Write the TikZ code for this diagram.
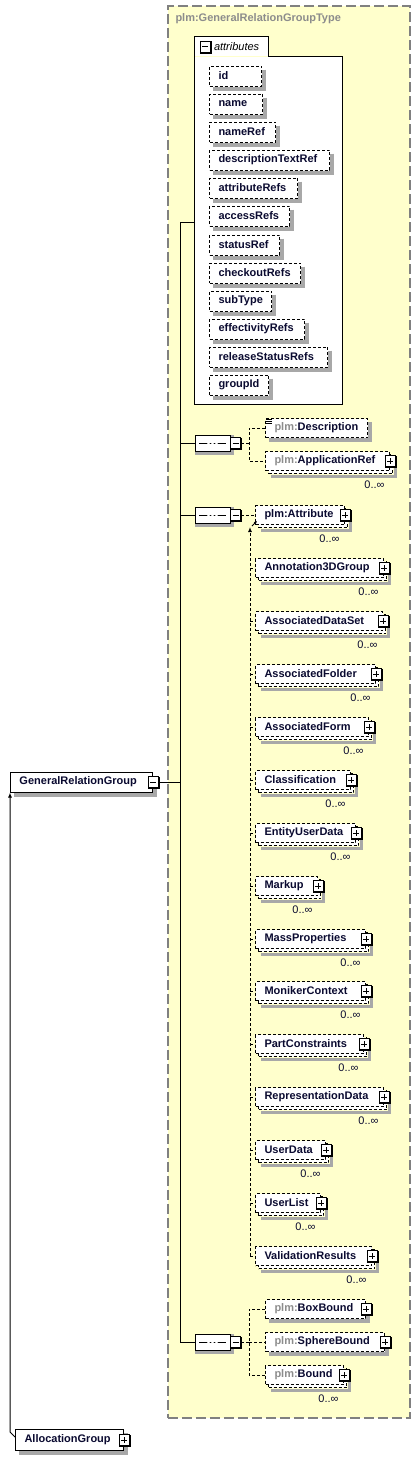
\documentclass[tikz,border=0pt]{standalone}
\usepackage{fontspec}
\setmainfont{Liberation Sans}[Scale=1.1]
\usepackage{tikz}
\usetikzlibrary{arrows.meta, shapes.misc, positioning}
\definecolor{bgyellow}{HTML}{FFFFCC}
\definecolor{framegray}{HTML}{808080}
\definecolor{shadowgray}{HTML}{A8A8A8}
\definecolor{nsgray}{HTML}{8C8C8C}
\definecolor{elemtext}{HTML}{0A0A30}
\tikzset{every picture/.style={line width=1pt}}
\newcommand{\plm}{{\color{nsgray}plm:}}

\begin{document}
\begin{tikzpicture}[x=1pt, y=-1pt,
    elbox/.style={draw, fill=white, anchor=west, inner xsep=9pt, inner ysep=0pt, align=left, text=elemtext, font=\bfseries},
    attr/.style={elbox, dash pattern=on 3pt off 2pt, minimum height=20pt, text width=#1pt},
    elem/.style={elbox, dash pattern=on 3pt off 2pt, minimum height=19pt, text width=#1pt},
    shadowline/.style={draw=shadowgray, line width=#1pt, line cap=butt, line join=miter},
    plusbox/.style={draw, solid, fill=white, minimum width=10pt, minimum height=11pt, inner sep=0pt,
        preaction={draw=black, line width=1.5pt, transform canvas={shift={(1pt,-1pt)}}},
        path picture={\draw ([xshift=2pt]path picture bounding box.west) -- ([xshift=-2pt]path picture bounding box.east)
            ([yshift=-2.5pt]path picture bounding box.north) -- ([yshift=2.5pt]path picture bounding box.south);}},
    minusbox/.style={draw, solid, fill=white, minimum width=10pt, minimum height=11pt, inner sep=0pt,
        preaction={draw=black, line width=1.5pt, transform canvas={shift={(1pt,-1pt)}}},
        path picture={\draw ([xshift=2pt]path picture bounding box.west) -- ([xshift=-2pt]path picture bounding box.east);}},
    seqshape/.style={chamfered rectangle, chamfered rectangle xsep=6pt, minimum width=35pt, minimum height=16pt, inner sep=0pt},
    seq/.style={seqshape, draw, fill=white,
        path picture={\draw ([xshift=4pt]path picture bounding box.west) -- ([xshift=-4pt]path picture bounding box.east);
            \foreach \d in {-4,0,4} \fill ([xshift=\d pt]path picture bounding box.center) circle (1.5pt);}},
    mult/.style={anchor=east, inner sep=0pt, text=elemtext},
    conn/.style={dash pattern=on 3pt off 2pt}]
    \useasboundingbox (0,0) rectangle (420,1460);

    % complex type frame and attributes box
    \node[draw=framegray, line width=1.5pt, dash pattern=on 10pt off 4pt, fill=bgyellow, anchor=north west,
        minimum width=242pt, minimum height=1412pt] (typebg) at (167,5) {};
    \node[anchor=west, inner sep=0pt, font=\bfseries, text=nsgray] (title) at (175,19) {plm:GeneralRelationGroupType};
    \node[fill=white, minimum width=147pt, minimum height=347pt, inner sep=0pt] (attrs) at (268.5,230.5) {};
    \node[anchor=south west, fill=white, minimum width=73pt, minimum height=19pt, inner sep=0pt] (atab) at (attrs.north west) {};
    \draw (attrs.south west) -- (atab.north west) -- (atab.north east) -- (atab.south east)
        -- (attrs.north east) -- (attrs.south east) -- cycle;
    \node[minusbox] (atabX) at ([xshift=10.5pt]atab.west) {};
    \node[anchor=west, inner sep=0pt, font=\itshape] (atabL) at ([xshift=3pt]atabX.east) {attributes};
    \coordinate (attrsin) at (195,222);

    \foreach \n/\w/\y/\t in {aid/34/76/id, aname/35/104/name, anameref/48/132/nameRef, adesc/102/160/descriptionTextRef,
            aattrrefs/70/188/attributeRefs, aaccess/62/216/accessRefs, astatus/52/245/statusRef,
            acheckout/73/273/checkoutRefs, asubtype/44/301/subType, aeff/77/329/effectivityRefs,
            arelease/100/357/releaseStatusRefs, agroup/41/385/groupId} {
        \node[attr=\w] (\n) at (209,\y) {\t};
        \draw[shadowline=4] ([shift={(2pt,-4pt)}]\n.north east) -- ([shift={(2pt,-2pt)}]\n.south east)
            -- ([shift={(4pt,-2pt)}]\n.south west);
    }

    % root and base
    \node[elbox, minimum height=20pt, text width=124pt] (grg) at (10,782) {GeneralRelationGroup};
    \draw[shadowline=4] ([shift={(2pt,-4pt)}]grg.north east) -- ([shift={(2pt,-2pt)}]grg.south east)
        -- ([shift={(4pt,-2pt)}]grg.south west);
    \node[minusbox] (grgX) at (grg.east) {};
    \node[elbox, minimum height=21pt, text width=90pt] (alloc) at (15,1440) {AllocationGroup};
    \draw[shadowline=4] ([shift={(2pt,-4pt)}]alloc.north east) -- ([shift={(2pt,-2pt)}]alloc.south east)
        -- ([shift={(4pt,-2pt)}]alloc.south west);
    \node[plusbox] (allocX) at (alloc.east) {};

    % sequences
    \foreach \n/\y in {seqA/443, seqB/515, seqC/1342} {
        \node[seqshape, shadowline=4] (\n S) at (214.5,\y+2) {};
        \node[seq] (\n) at (212.5,\y) {};
        \node[minusbox] (\n X) at ([xshift=5pt]\n.east) {};
    }

    % single elements
    \foreach \n/\w/\x/\y/\t in {desc/84/265/428/\plm Description, boxb/82/265/1309/\plm BoxBound,
            sphere/101/265/1342/\plm SphereBound} {
        \node[elem=\w] (\n) at (\x,\y) {\t};
        \draw[shadowline=4] ([shift={(2pt,-4pt)}]\n.north east) -- ([shift={(2pt,-2pt)}]\n.south east)
            -- ([shift={(4pt,-2pt)}]\n.south west);
    }
    \node[plusbox] (boxbX) at (boxb.east) {};
    \node[plusbox] (sphereX) at (sphere.east) {};
    \foreach \k in {1,3,5}
        \draw[line width=0.7pt] ([xshift=1pt,yshift=-\k pt]desc.north west) -- ++(6pt,0);

    % repeated elements
    \foreach \n/\w/\x/\y/\t in {appref/106/265/461/\plm ApplicationRef, attr/71/255/515/plm:Attribute,
            annot/110/255/568/Annotation3DGroup, adset/109/255/621/AssociatedDataSet,
            afolder/102/255/674/AssociatedFolder, aform/95/255/727/AssociatedForm,
            classif/77/255/780/Classification, eudata/82/255/833/EntityUserData,
            markup/44/255/886/Markup, massprop/92/255/939/MassProperties,
            moniker/92/255/991/MonikerContext, partc/90/255/1044/PartConstraints,
            repdata/110/255/1097/RepresentationData, udata/52/255/1150/UserData,
            ulist/47/255/1203/UserList, valres/98/255/1256/ValidationResults,
            bound/60/265/1375/\plm Bound} {
        \node[elem=\w] (\n C) at (\x+3,\y+3) {};
        \node[elem=\w] (\n) at (\x,\y) {\t};
        \draw[shadowline=3] ([shift={(5pt,-6pt)}]\n.north east) -- ([shift={(5pt,-5pt)}]\n.south east)
            -- ([shift={(6pt,-5pt)}]\n.south west);
        \node[plusbox] (\n X) at (\n.east) {};
        \node[mult] (\n M) at ([xshift=-5pt,yshift=-14pt]\n.south east) {0..∞};
    }
    \draw[-{Latex[length=3pt,width=3pt]}] ([xshift=-3pt,yshift=-11pt]attr.west) -- ([xshift=2pt,yshift=-6pt]attr.west);

    % connectors
    \coordinate (trunk) at (180,0);
    \coordinate (forkA) at (249,0);
    \coordinate (subst) at (250,0);
    \draw (grgX.east) -- (grgX.east -| trunk)
        (attrsin) -- (attrsin -| trunk) -- (seqC.west -| trunk) -- (seqC.west)
        (seqA.west -| trunk) -- (seqA.west)
        (seqB.west -| trunk) -- (seqB.west);
    \draw[conn] (seqAX.east) -- (seqAX.east -| forkA)
        (desc.west) -- (desc.west -| forkA) -- (appref.west -| forkA) -- (appref.west);
    \draw[conn] (seqBX.east) -- (attr.west);
    \draw[conn, -{Latex[length=5pt,width=4pt]}] (valres.west -| subst) -- ([yshift=-2pt]attr.south -| subst);
    \foreach \n in {annot, adset, afolder, aform, classif, eudata, markup, massprop, moniker, partc, repdata, udata, ulist, valres}
        \draw[conn] (\n.west -| subst) -- (\n.west);
    \draw[conn] (seqCX.east) -- (seqCX.east -| forkA)
        (boxb.west) -- (boxb.west -| forkA) -- (bound.west -| forkA) -- (bound.west)
        (sphere.west -| forkA) -- (sphere.west);
    \draw[-{Latex[length=5pt,width=4pt]}] ([yshift=3pt]alloc.west) -- ([xshift=-5pt,yshift=8pt]alloc.west) -- (grg.south west);
\end{tikzpicture}
\end{document}
